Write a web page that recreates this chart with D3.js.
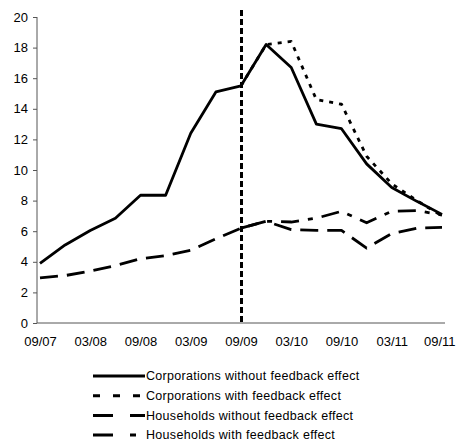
<meta charset="utf-8">
<head>
    <script type="text/javascript" src="https://cdn.jsdelivr.net/npm/d3@7"></script>
    <style>
        body { margin: 0; background: #ffffff; }
        text { font-family: "Liberation Sans", Arial, sans-serif; fill: #000000; }
    </style>
</head>
<body>
    <svg width=456 height=443></svg>
</body>
<script>
    // quarterly observations, 09/07 .. 09/11
    let quarters = ["09/07", "12/07", "03/08", "06/08", "09/08", "12/08", "03/09", "06/09", "09/09",
                    "12/09", "03/10", "06/10", "09/10", "12/10", "03/11", "06/11", "09/11"];
    let tickLabels = ["09/07", "03/08", "09/08", "03/09", "09/09", "03/10", "09/10", "03/11", "09/11"];
    let yTicks = [0, 2, 4, 6, 8, 10, 12, 14, 16, 18, 20];

    let corpNoFeedback = [3.9, 5.1, 6.05, 6.85, 8.35, 8.35, 12.4, 15.1, 15.5,
                          18.2, 16.7, 13.0, 12.7, 10.4, 8.85, 7.95, 7.1];
    let corpFeedback = [null, null, null, null, null, null, null, null, 15.5,
                        18.2, 18.4, 14.6, 14.3, 10.9, 9.1, 8.0, 7.0];
    let hhNoFeedback = [2.95, 3.1, 3.4, 3.75, 4.2, 4.4, 4.75, 5.5, 6.2,
                        6.65, 6.1, 6.05, 6.05, 4.9, 5.85, 6.2, 6.25];
    let hhFeedback = [null, null, null, null, null, null, null, null, 6.2,
                      6.65, 6.6, 6.85, 7.3, 6.55, 7.3, 7.35, 7.05];

    let series = [
        { name: "Corporations without feedback effect", values: corpNoFeedback, dash: null, legendDash: null },
        { name: "Corporations with feedback effect", values: corpFeedback, dash: "4,6", legendDash: "7,13" },
        { name: "Households without feedback effect", values: hhNoFeedback, dash: "18,9", legendDash: "20,17" },
        { name: "Households with feedback effect", values: hhFeedback, dash: "18,9,5,9", legendDash: "20,17,6,20" }
    ];

    let svg = d3.select('svg');

    let x = d3.scaleLinear()
        .domain([0, quarters.length - 1])
        .range([40, 442]);

    let y = d3.scaleLinear()
        .domain([0, 20])
        .range([323, 17]);

    // y axis
    let yAxis = d3.axisLeft(y).tickValues(yTicks).tickSize(4).tickPadding(5).tickFormat(d3.format("d"));
    let gy = svg.append('g')
        .attr("transform", "translate(37, 0)")
        .call(yAxis);
    gy.select(".domain").attr("stroke", "#555555").attr("d", "M0,323V17");
    gy.selectAll(".tick line").attr("stroke", "#555555");
    gy.selectAll(".tick text")
        .attr("font-family", "Liberation Sans, Arial, sans-serif")
        .attr("font-size", 13);

    // x axis, labels every other quarter
    let xAxis = d3.axisBottom(x)
        .tickValues(tickLabels.map(function (d) { return quarters.indexOf(d); }))
        .tickFormat(function (i) { return quarters[i]; })
        .tickSize(0)
        .tickPadding(14);
    let gx = svg.append('g')
        .attr("transform", `translate(0, ${y(0)})`)
        .call(xAxis);
    gx.select(".domain").attr("stroke", "#555555").attr("d", "M37,0H445");
    gx.selectAll(".tick text")
        .attr("font-family", "Liberation Sans, Arial, sans-serif")
        .attr("font-size", 13);
    // keep the last label inside the frame
    gx.selectAll(".tick text")
        .filter(function (i) { return i === quarters.length - 1; })
        .attr("text-anchor", "end")
        .attr("x", 455 - x(quarters.length - 1));

    // vertical marker at 09/09
    let markX = x(quarters.indexOf("09/09")) + 0.5;
    svg.append("line")
        .attr("x1", markX).attr("x2", markX)
        .attr("y1", 10).attr("y2", y(0))
        .attr("stroke", "#000000")
        .attr("stroke-width", 3)
        .attr("stroke-dasharray", "6,3");

    let line = d3.line()
        .defined(function (d) { return d !== null; })
        .x(function (d, i) { return x(i); })
        .y(function (d) { return y(d); });

    svg.selectAll("path.series")
        .data(series)
        .enter()
        .append("path")
        .attr("class", "series")
        .attr("fill", "none")
        .attr("stroke", "#000000")
        .attr("stroke-width", 2.8)
        .attr("stroke-linejoin", "round")
        .attr("stroke-dasharray", function (d) { return d.dash; })
        .attr("d", function (d) { return line(d.values); });

    // legend
    let legend = svg.selectAll("g.legend")
        .data(series)
        .enter()
        .append("g")
        .attr("class", "legend")
        .attr("transform", function (d, i) { return `translate(93, ${376 + i * 19.7})`; });

    legend.append("line")
        .attr("x1", 0).attr("x2", 52)
        .attr("y1", 0).attr("y2", 0)
        .attr("stroke", "#000000")
        .attr("stroke-width", 3)
        .attr("stroke-dasharray", function (d) { return d.legendDash; });

    legend.append("text")
        .attr("x", 53)
        .attr("y", 0)
        .attr("dy", ".35em")
        .attr("font-size", 12.5)
        .attr("letter-spacing", 0.3)
        .text(function (d) { return d.name; });
</script>
